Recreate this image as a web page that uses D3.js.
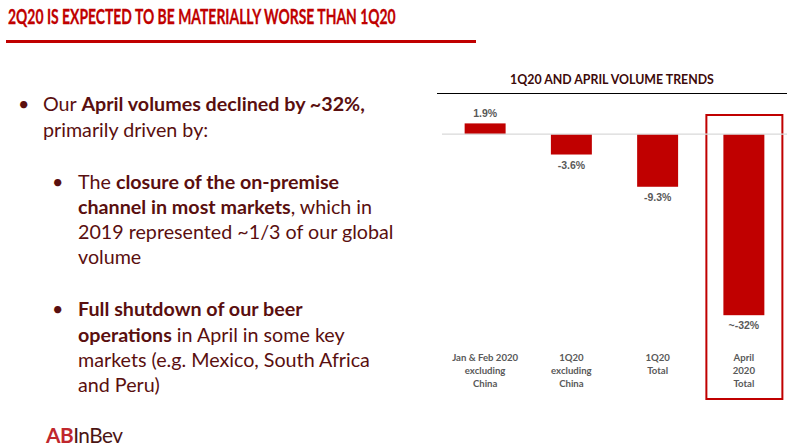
<!DOCTYPE html>
<html><head><meta charset="utf-8">
<script src="https://cdn.jsdelivr.net/npm/d3@7"></script>
<style>body{margin:0;background:#fff;} svg{display:block;}</style>
</head><body>
<script>
const categories = [["Jan & Feb 2020","excluding","China"],["1Q20","excluding","China"],["1Q20","Total"],["April","2020","Total"]];
const values = [1.9, -3.6, -9.3, -32];
const valueLabels = ["1.9%","-3.6%","-9.3%","~-32%"];
const highlighted = 3;

const W = 799, H = 446;
const svg = d3.select("body").append("svg").attr("width", W).attr("height", H);
const FONT = "Lato, 'Open Sans', sans-serif";
const TXT = "#5a0f0f";

function fit(sel, target){
  const n = sel.node();
  const fs = parseFloat(sel.attr("font-size"));
  const w = n.getComputedTextLength();
  sel.attr("font-size", (fs*target/w).toFixed(2));
  return fs*target/w;
}

// Title (condensed look, like Calibri bold)
const title = svg.append("text").attr("font-family", FONT)
  .attr("font-weight", "bold").attr("font-size", 20.5).attr("fill", "#c00000")
  .attr("stroke", "#c00000").attr("stroke-width", 0.3)
  .text("2Q20 IS EXPECTED TO BE MATERIALLY WORSE THAN 1Q20");
const tw = title.node().getComputedTextLength();
title.attr("transform", `translate(8,24) scale(${(388/tw).toFixed(4)},1)`);
svg.append("rect").attr("x", 6).attr("y", 40).attr("width", 470).attr("height", 3).attr("fill", "#c00000");

// Bullet text
const lines = [
  {x:43, y:111, parts:[["Our ",0],["April volumes declined by ~32%,",1]]},
  {x:43, y:136.5, parts:[["primarily driven by:",0]]},
  {x:78, y:188.5, parts:[["The ",0],["closure of the on-premise",1]]},
  {x:78, y:213.5, parts:[["channel in most markets",1],[", which in",0]]},
  {x:78, y:238.5, parts:[["2019 represented ~1/3 of our global",0]]},
  {x:78, y:263.5, parts:[["volume",0]]},
  {x:78, y:316, parts:[["Full shutdown of our beer",1]]},
  {x:78, y:341.5, parts:[["operations",1],[" in April in some key",0]]},
  {x:78, y:366.5, parts:[["markets (e.g. Mexico, South Africa",0]]},
  {x:78, y:391.5, parts:[["and Peru)",0]]}
];
const bullets = [{x:18,y:111},{x:52,y:188.5},{x:52,y:316}];
const tg = svg.append("g").attr("font-family", FONT).attr("fill", TXT);
const lineSel = [];
lines.forEach(l=>{
  const t = tg.append("text").attr("x", l.x).attr("y", l.y).attr("font-size", 19);
  l.parts.forEach(p=>t.append("tspan").attr("font-weight", p[1]?"bold":"normal").text(p[0]));
  lineSel.push(t);
});
const fs = fit(lineSel[0], 322);
lineSel.forEach(t=>t.attr("font-size", fs));
bullets.forEach(b=>tg.append("text").attr("x", b.x).attr("y", b.y).attr("font-size", fs).text("•"));

// Logo
const logo = svg.append("text").attr("x", 46).attr("y", 443).attr("font-family", FONT)
  .attr("font-weight", "bold").attr("font-size", 18).attr("letter-spacing", -0.5);
logo.append("tspan").attr("fill", "#c0272d").text("AB");
logo.append("tspan").attr("fill", "#4a1414").attr("font-weight","normal").text("InBev");
fit(logo, 76);

// Chart
const x = d3.scaleBand().domain(d3.range(values.length)).range([442, 787]).paddingInner(0.525).paddingOuter(0.2625);
const y = d3.scaleLinear().domain([-32, 1.9]).range([315.2, 123.4]);

const ct = svg.append("text").attr("x", 612).attr("y", 84).attr("text-anchor", "middle")
  .attr("font-family", FONT).attr("font-weight", "bold").attr("font-size", 11).attr("fill", "#3d0a0a")
  .text("1Q20 AND APRIL VOLUME TRENDS");
fit(ct, 204);
svg.append("line").attr("x1", 437).attr("x2", 787).attr("y1", 93.5).attr("y2", 93.5).attr("stroke", "#000").attr("stroke-width", 1);

// highlight box
const hb = x(highlighted) + x.bandwidth()/2;
svg.append("rect").attr("x", hb - 37.5).attr("y", 115).attr("width", 76).attr("height", 284)
  .attr("fill", "none").attr("stroke", "#c00000").attr("stroke-width", 2);

// bars
svg.selectAll("rect.bar").data(values).join("rect").attr("class", "bar")
  .attr("x", (d,i)=>x(i)).attr("width", x.bandwidth())
  .attr("y", d=>y(Math.max(0,d))).attr("height", d=>Math.abs(y(d)-y(0)))
  .attr("fill", "#c00000");

// zero line
svg.append("line").attr("x1", 442).attr("x2", 787).attr("y1", y(0)).attr("y2", y(0))
  .attr("stroke", "#d9d9d9").attr("stroke-width", 1.2);

// value labels
svg.selectAll("text.val").data(values).join("text").attr("class", "val")
  .attr("x", (d,i)=>x(i)+x.bandwidth()/2)
  .attr("y", d=> d>=0 ? y(d)-6.5 : y(d)+14)
  .attr("text-anchor", "middle").attr("font-family", "'Liberation Sans', Arial, sans-serif")
  .attr("font-weight", "bold").attr("font-size", 10.5).attr("fill", "#595959")
  .text((d,i)=>valueLabels[i]);

// category labels
const cg = svg.append("g").attr("font-family", FONT).attr("font-weight", "bold").attr("font-size", 9.6).attr("fill", "#595959").attr("text-anchor","middle");
categories.forEach((c,i)=>{
  const t = cg.append("text").attr("x", x(i)+x.bandwidth()/2).attr("y", 361);
  c.forEach((s,j)=>t.append("tspan").attr("x", x(i)+x.bandwidth()/2).attr("dy", j===0?0:13).text(s));
});
</script>
</body></html>
